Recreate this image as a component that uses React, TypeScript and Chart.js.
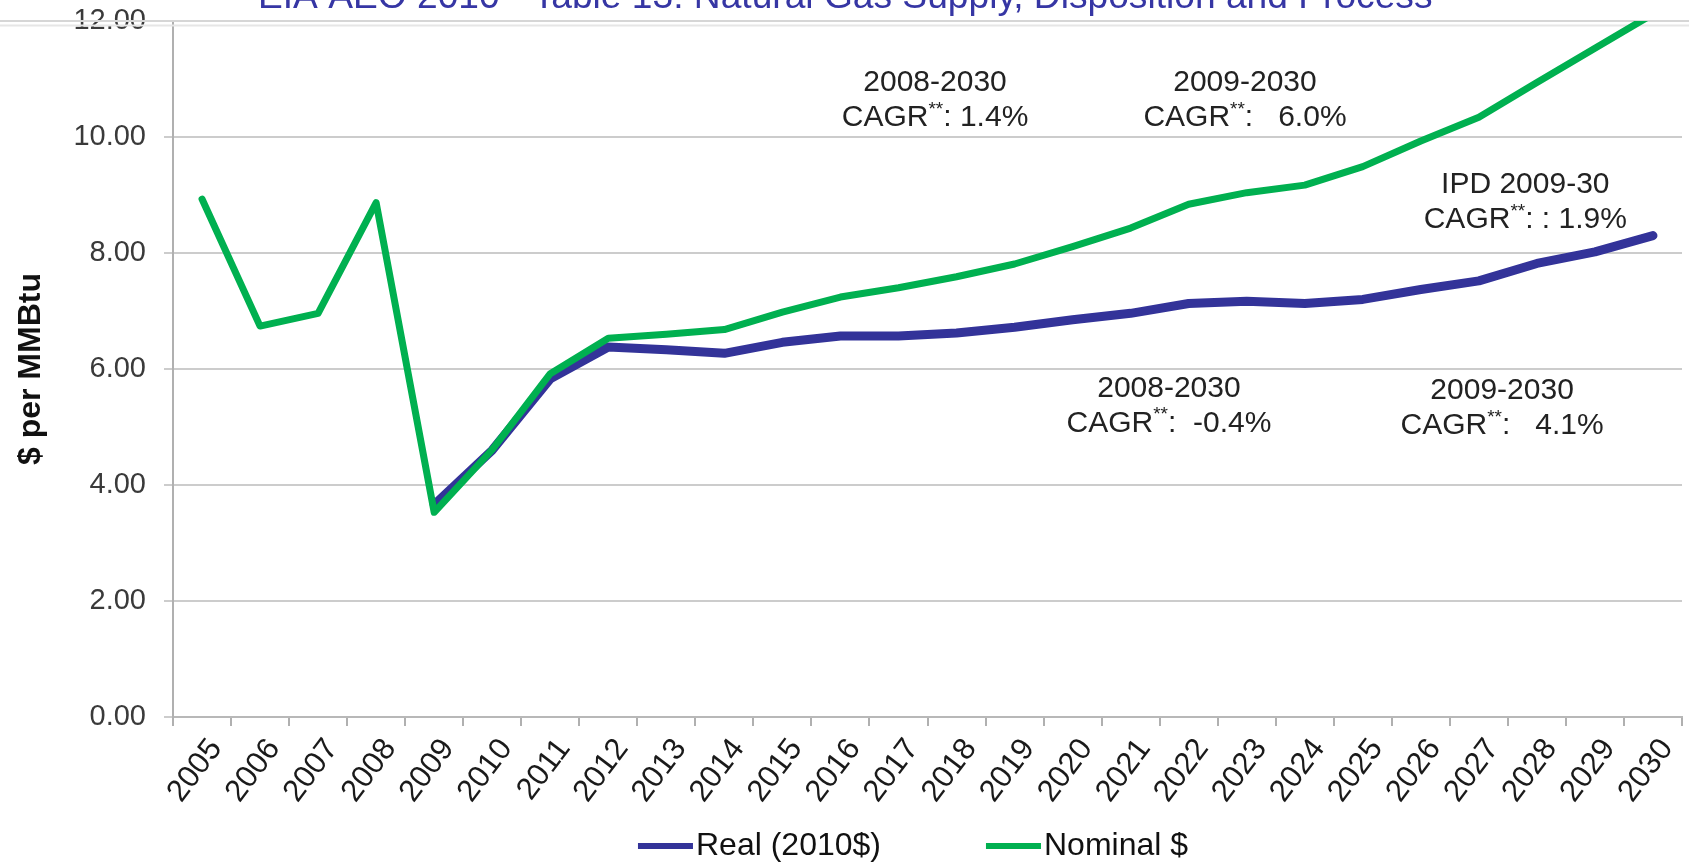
import React, { useEffect, useRef } from 'react';
import { Chart, registerables } from 'chart.js';

Chart.register(...registerables);

const years = [
  '2005', '2006', '2007', '2008', '2009', '2010', '2011', '2012', '2013',
  '2014', '2015', '2016', '2017', '2018', '2019', '2020', '2021', '2022',
  '2023', '2024', '2025', '2026', '2027', '2028', '2029', '2030',
];

const realValues = [
  null, null, null, null, 3.66, 4.6, 5.83, 6.38, 6.33, 6.27, 6.46, 6.57, 6.57,
  6.62, 6.72, 6.85, 6.96, 7.13, 7.17, 7.13, 7.2, 7.37, 7.52, 7.82, 8.02, 8.3,
];

const nominalValues = [
  8.93, 6.74, 6.96, 8.87, 3.53, 4.61, 5.92, 6.53, 6.6, 6.68, 6.98, 7.24, 7.4,
  7.59, 7.81, 8.11, 8.43, 8.84, 9.04, 9.17, 9.49, 9.93, 10.34, 10.94, 11.53, 12.12,
];

const yTickValues = [0, 2, 4, 6, 8, 10, 12];

const seriesNames = ['Real (2010$)', 'Nominal $'];

const titleText = 'EIA AEO 2010 - Table 13: Natural Gas Supply, Disposition and Process';
const yAxisTitle = '$ per MMBtu';

const annotationTexts = [
  ['2008-2030', 'CAGR**: 1.4%'],
  ['2009-2030', 'CAGR**:   6.0%'],
  ['IPD 2009-30', 'CAGR**: : 1.9%'],
  ['2008-2030', 'CAGR**:  -0.4%'],
  ['2009-2030', 'CAGR**:   4.1%'],
];
// anchor of each annotation block: (fractional category index, value)
const annotationIndex = [12.63, 17.97, 22.8, 16.66, 22.4];
const annotationValue = [10.63, 10.63, 8.87, 5.36, 5.32];

const FONT = '"Liberation Sans", Arial, Helvetica, sans-serif';
const BLUE = '#333399';
const GREEN = '#00b050';

function drawRich(ctx: CanvasRenderingContext2D, text: string, cx: number, cy: number, size: number) {
  const parts = text.split('**');
  const normal = `${size}px ${FONT}`;
  const small = `${Math.round(size * 0.62)}px ${FONT}`;
  if (parts.length === 1) {
    ctx.font = normal;
    ctx.textAlign = 'center';
    ctx.fillText(text, cx, cy);
    return;
  }
  ctx.font = normal;
  const w1 = ctx.measureText(parts[0]).width;
  const w3 = ctx.measureText(parts[1]).width;
  ctx.font = small;
  const w2 = ctx.measureText('**').width;
  const total = w1 + w2 + w3;
  let x = cx - total / 2;
  ctx.textAlign = 'left';
  ctx.font = normal;
  ctx.fillText(parts[0], x, cy);
  x += w1;
  ctx.font = small;
  ctx.fillText('**', x, cy - size * 0.28);
  x += w2;
  ctx.font = normal;
  ctx.fillText(parts[1], x, cy);
}

const decorPlugin = {
  id: 'decor',
  beforeDatasetsDraw(chart: any) {
    const ctx = chart.ctx as CanvasRenderingContext2D;
    ctx.save();
    ctx.lineWidth = 2;
    ctx.strokeStyle = '#d6d6d6';
    ctx.beginPath();
    ctx.moveTo(0, 21);
    ctx.lineTo(chart.width, 21);
    ctx.stroke();
    ctx.strokeStyle = '#e6e6e6';
    ctx.beginPath();
    ctx.moveTo(0, 25.5);
    ctx.lineTo(chart.width, 25.5);
    ctx.stroke();
    ctx.restore();
  },
  afterDraw(chart: any) {
    const ctx = chart.ctx as CanvasRenderingContext2D;
    const xs = chart.scales.x;
    const ys = chart.scales.y;
    ctx.save();
    // annotations
    ctx.fillStyle = '#222222';
    ctx.textBaseline = 'middle';
    annotationTexts.forEach((lines, i) => {
      const cx = xs.getPixelForValue(annotationIndex[i]);
      const cy = ys.getPixelForValue(annotationValue[i]);
      drawRich(ctx, lines[0], cx, cy - 17.5, 30);
      drawRich(ctx, lines[1], cx, cy + 17.5, 30);
    });
    // title (top part cut off by the page edge)
    ctx.fillStyle = '#3636a4';
    ctx.textBaseline = 'alphabetic';
    ctx.textAlign = 'left';
    ctx.font = `100px ${FONT}`;
    const w = ctx.measureText(titleText).width;
    const size = (100 * 1175) / w;
    ctx.font = `${size}px ${FONT}`;
    ctx.fillText(titleText, 258, 7.5);
    // legend
    const legendY = 846;
    const boxW = 55;
    const gap = 3;
    const itemGap = 105;
    ctx.font = `32px ${FONT}`;
    const widths = seriesNames.map((n) => ctx.measureText(n).width);
    const total = widths.reduce((a, b) => a + b + boxW + gap, 0) + itemGap * (seriesNames.length - 1);
    let x = 913 - total / 2;
    ctx.textBaseline = 'middle';
    chart.data.datasets.forEach((ds: any, i: number) => {
      ctx.fillStyle = ds.borderColor;
      ctx.fillRect(x, legendY - 3, boxW, 6);
      x += boxW + gap;
      ctx.fillStyle = '#111111';
      ctx.fillText(ds.label, x, legendY);
      x += widths[i] + itemGap;
    });
    ctx.restore();
  },
};

export default function App() {
  const ref = useRef<HTMLCanvasElement | null>(null);

  useEffect(() => {
    if (!ref.current) return;
    const chart = new Chart(ref.current, {
      type: 'line',
      data: {
        labels: years,
        datasets: [
          {
            label: seriesNames[0],
            data: realValues,
            borderColor: BLUE,
            backgroundColor: BLUE,
            borderWidth: 9,
            pointRadius: 0,
            borderJoinStyle: 'round',
            borderCapStyle: 'round',
            tension: 0,
            order: 1,
          },
          {
            label: seriesNames[1],
            data: nominalValues,
            borderColor: GREEN,
            backgroundColor: GREEN,
            borderWidth: 7,
            pointRadius: 0,
            borderJoinStyle: 'round',
            borderCapStyle: 'round',
            tension: 0,
            order: 0,
          },
        ],
      },
      options: {
        animation: false,
        responsive: true,
        maintainAspectRatio: false,
        font: { family: FONT },
        layout: { padding: { left: 0, right: 7, top: 21, bottom: 40 } },
        plugins: {
          legend: { display: false },
          tooltip: { enabled: false },
          title: { display: false },
        },
        scales: {
          x: {
            type: 'category',
            offset: true,
            grid: {
              offset: true,
              drawOnChartArea: false,
              drawTicks: true,
              tickLength: 9,
              color: '#b0b0b0',
              lineWidth: 2,
            },
            border: { display: true, color: '#b8b8b8', width: 2 },
            ticks: {
              autoSkip: false,
              maxRotation: 53,
              minRotation: 53,
              padding: 6,
              labelOffset: 14,
              color: '#1a1a1a',
              font: { family: FONT, size: 31 },
            },
            afterFit: (s: any) => {
              s.height = 107;
            },
          },
          y: {
            min: 0,
            max: 12,
            afterBuildTicks: (s: any) => {
              s.ticks = yTickValues.map((v) => ({ value: v }));
            },
            grid: {
              color: '#cccccc',
              lineWidth: 2,
              drawTicks: true,
              tickLength: 9,
            },
            border: { display: true, color: '#b0b0b0', width: 2 },
            ticks: {
              padding: 18,
              color: '#3a3a3a',
              font: { family: FONT, size: 29 },
              callback: (v: any) => Number(v).toFixed(2),
            },
            title: {
              display: true,
              text: yAxisTitle,
              color: '#111111',
              font: { family: FONT, size: 32, weight: 'bold' },
              padding: { top: 12, bottom: 0 },
            },
            afterFit: (s: any) => {
              s.width = 173;
              s.paddingTop = 0;
              s.paddingBottom = 0;
            },
          },
        },
      },
      plugins: [decorPlugin],
    });
    return () => chart.destroy();
  }, []);

  return (
    <div style={{ position: 'fixed', left: 0, top: 0, width: 1689, height: 864, background: '#ffffff' }}>
      <canvas ref={ref} style={{ width: '100%', height: '100%' }} />
    </div>
  );
}
